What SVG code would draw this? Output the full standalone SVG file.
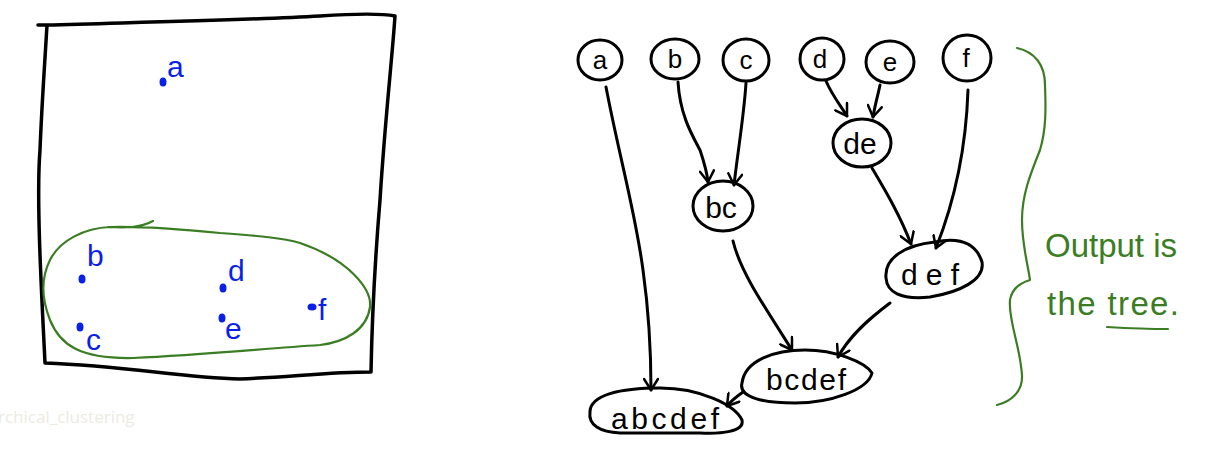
<svg xmlns="http://www.w3.org/2000/svg" width="1212" height="454" viewBox="0 0 1212 454">
<style>
.ink{fill:none;stroke:#000;stroke-width:3;stroke-linecap:round;stroke-linejoin:round}
.grn{fill:none;stroke:#3b7d23;stroke-width:2.2;stroke-linecap:round;stroke-linejoin:round}
.lbl{font-family:"Liberation Sans",Arial,sans-serif;font-size:26px;fill:#000;text-anchor:middle}
.big{font-size:30px}
.pt{fill:#0a1fe8}
.ptl{font-family:"Liberation Sans",Arial,sans-serif;font-size:30px;fill:#0a1fe8}
.note{font-family:"Liberation Sans",Arial,sans-serif;font-size:33px;fill:#3b7d23}
.wm{font-family:"Open Sans","Liberation Sans",sans-serif;font-size:17px;fill:#ecebe2}
</style>
<defs>
<marker id="ah" markerWidth="16" markerHeight="16" refX="13" refY="8" orient="auto" markerUnits="userSpaceOnUse">
<path d="M2,1 L13,8 L2,15" fill="none" stroke="#000" stroke-width="2.5" stroke-linecap="round" stroke-linejoin="round"/>
</marker>
</defs>

<g id="scatter">
<path class="ink" style="stroke-width:3.5" d="M38,25 L47,25 C150,22 250,20 320,16 C350,14 380,13 395,16 C392,60 385,120 380,200 C375,260 372,320 371,372 C330,372 290,377 240,379 C180,378 130,366 45,363 C42,300 36,200 40,150 C42,100 45,60 47,25"/>
<path class="grn" d="M110,227 C150,226 190,230 220,233 C260,236 283,238 300,243 C350,260 372,290 370,307 C367,330 345,342 320,345 C260,349 200,355 133,358 C80,359 60,345 50,320 C42,300 40,280 50,260 C60,240 85,228 110,227 M108,227 C125,228 140,228 153,221"/>
<g id="pa"><ellipse class="pt" cx="163" cy="82" rx="3.5" ry="4.5"/><text class="ptl" x="167" y="77">a</text></g>
<g id="pb"><ellipse class="pt" cx="82" cy="279" rx="3.5" ry="4.5"/><text class="ptl" x="87" y="266">b</text></g>
<g id="pc"><ellipse class="pt" cx="80" cy="327" rx="3.5" ry="4.5"/><text class="ptl" x="86" y="350">c</text></g>
<g id="pd"><ellipse class="pt" cx="223" cy="288" rx="3.5" ry="4.5"/><text class="ptl" x="228" y="281">d</text></g>
<g id="pe"><ellipse class="pt" cx="222" cy="318" rx="3.5" ry="4.5"/><text class="ptl" x="225" y="339">e</text></g>
<g id="pf"><ellipse class="pt" cx="312" cy="307" rx="4.5" ry="3.5"/><text class="ptl" x="318" y="320">f</text></g>
</g>

<g id="connectors">
<path class="ink" marker-end="url(#ah)" d="M606,87 C620,160 635,210 643,270 C650,320 651,360 651,390"/>
<path class="ink" marker-end="url(#ah)" d="M678,82 C680,115 692,135 700,150 C705,165 707,172 708,182"/>
<path class="ink" marker-end="url(#ah)" d="M746,83 C744,115 738,150 734,185"/>
<path class="ink" marker-end="url(#ah)" d="M826,81 C832,95 840,105 847,116"/>
<path class="ink" marker-end="url(#ah)" d="M880,85 C878,95 875,105 873,117"/>
<path class="ink" marker-end="url(#ah)" d="M872,168 C885,190 900,215 911,244"/>
<path class="ink" marker-end="url(#ah)" d="M968,90 C966,150 955,200 936,248"/>
<path class="ink" marker-end="url(#ah)" d="M733,241 C740,270 760,300 792,350"/>
<path class="ink" marker-end="url(#ah)" d="M890,303 C870,318 850,335 838,357"/>
<path class="ink" marker-end="url(#ah)" d="M743,392 C736,397 731,401 727,406"/>
</g>

<g id="n-a"><ellipse class="ink" cx="600" cy="60" rx="22" ry="20"/><text class="lbl" x="600" y="69">a</text></g>
<g id="n-b"><ellipse class="ink" cx="675" cy="59" rx="24" ry="20"/><text class="lbl" x="675" y="68">b</text></g>
<g id="n-c"><ellipse class="ink" cx="746" cy="60" rx="23" ry="21"/><text class="lbl" x="746" y="69">c</text></g>
<g id="n-d"><ellipse class="ink" cx="822" cy="59" rx="22" ry="21"/><text class="lbl" x="820" y="68">d</text></g>
<g id="n-e"><ellipse class="ink" cx="890" cy="62" rx="24" ry="21"/><text class="lbl" x="890" y="71">e</text></g>
<g id="n-f"><ellipse class="ink" cx="967" cy="58" rx="24" ry="23"/><text class="lbl" x="966" y="67">f</text></g>
<g id="n-de"><ellipse class="ink" cx="862" cy="143" rx="29" ry="24"/><text class="lbl big" x="860" y="154">de</text></g>
<g id="n-bc"><ellipse class="ink" cx="723" cy="206" rx="30" ry="25"/><text class="lbl big" x="721" y="218">bc</text></g>
<g id="n-def"><path class="ink" d="M886,278 C884,258 905,245 935,242 C955,238 975,240 982,262 C985,280 960,292 930,297 C900,300 887,292 886,278 Z"/><text class="lbl big" x="930" y="285" textLength="58" lengthAdjust="spacing">def</text></g>
<g id="n-bcdef"><path class="ink" d="M742,383 C745,360 775,350 805,350 C835,350 865,362 872,373 C868,390 830,403 795,403 C765,403 738,398 742,383 Z"/><text class="lbl big" x="806" y="390" textLength="80" lengthAdjust="spacing">bcdef</text></g>
<g id="n-abcdef"><path class="ink" d="M590,412 C590,395 620,388 660,388 C700,388 735,405 742,420 C745,432 720,434 700,433 L620,433 C600,432 588,425 590,412 Z"/><text class="lbl big" x="665" y="429" textLength="108" lengthAdjust="spacing">abcdef</text></g>

<g id="note">
<path class="grn" d="M1017,48 C1035,52 1045,65 1045,85 C1046,110 1046,130 1040,150 C1030,175 1022,195 1022,220 C1022,245 1028,265 1030,280 C1020,283 1012,288 1010,300 C1008,320 1020,345 1022,375 C1023,392 1010,402 997,405"/>
<text class="note" x="1045" y="257" textLength="132" lengthAdjust="spacing">Output is</text>
<text class="note" x="1047" y="315" textLength="132" lengthAdjust="spacing">the tree.</text>
<path class="grn" d="M1107,327 C1125,328 1150,329 1168,329"/>
</g>

<text class="wm" x="-2" y="423">rchical_clustering</text>
</svg>
